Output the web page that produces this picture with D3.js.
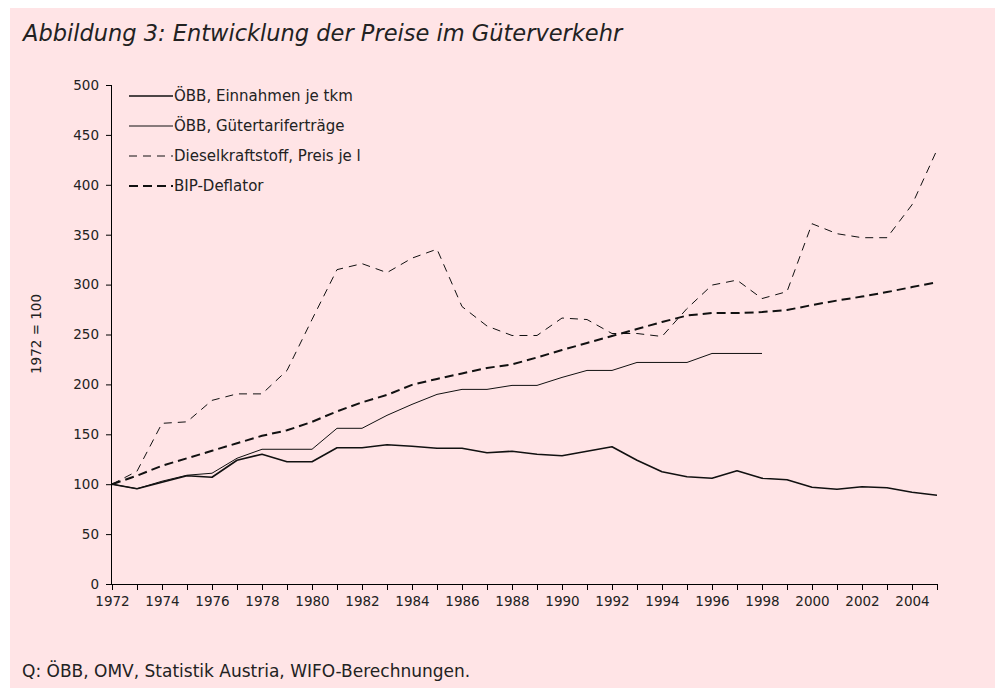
<!DOCTYPE html>
<html>
<head>
<meta charset="utf-8">
<script src="https://cdn.jsdelivr.net/npm/d3@7"></script>
<style>
  body { margin: 0; background: #fff; }
  text { font-family: "DejaVu Sans", sans-serif; fill: #222; }
</style>
</head>
<body>
<div id="chart"></div>
<script>
var years = d3.range(1972, 2006);

// ÖBB, Einnahmen je tkm
var einnahmen = [100, 95.5, 102, 108.5, 107, 124, 130, 122.5, 122.5, 136.5, 136.5, 139.5,
    138, 136, 136, 131.5, 133, 130, 128.5, 133, 137.5, 124, 112.5, 107.5, 106, 113.5,
    106, 104.5, 97, 95, 97.5, 96.5, 92, 89];

// ÖBB, Gütertariferträge (bis 1998)
var tarif = [100, 95.5, 103, 109, 111, 126, 135, 135, 135, 156, 156, 169,
    180, 190, 195, 195, 199, 199, 207, 214, 214, 222, 222, 222, 231, 231, 231];

// Dieselkraftstoff, Preis je l
var diesel = [100, 113, 161, 162.5, 184, 190.5, 190.5, 214, 265, 315, 321, 312,
    326.5, 335.5, 278, 258.5, 249, 249, 266.5, 265, 251, 251, 248, 276, 299.5, 304.5,
    286, 293, 361, 351, 347, 347, 380, 435];

// BIP-Deflator
var deflator = [100, 108.5, 118.5, 126, 133.5, 141, 148.5, 154, 162.5, 173, 182, 189.5,
    199.5, 205.5, 211, 216.5, 220, 227, 234.5, 241.5, 248.5, 255.5, 262.5, 269, 271.5,
    271.5, 272.5, 274.5, 279.5, 284, 288, 292.5, 297.5, 302.5];

var seriesNames = ["ÖBB, Einnahmen je tkm", "ÖBB, Gütertariferträge",
    "Dieselkraftstoff, Preis je l", "BIP-Deflator"];

var yTicks = [0, 50, 100, 150, 200, 250, 300, 350, 400, 450, 500];
var xLabels = d3.range(1972, 2006, 2);

function init() {
    var w = 996, h = 688;

    var svg = d3.select("#chart")
        .append("svg")
        .attr("width", w)
        .attr("height", h);

    // pink panel
    svg.append("rect")
        .attr("x", 10).attr("y", 8)
        .attr("width", 985).attr("height", 680)
        .attr("fill", "#ffe4e6");

    svg.append("text")
        .attr("x", 23).attr("y", 41)
        .style("font-size", "22.5px")
        .style("font-style", "italic")
        .text("Abbildung 3: Entwicklung der Preise im Güterverkehr");

    svg.append("text")
        .attr("x", 22).attr("y", 677)
        .style("font-size", "17px")
        .text("Q: ÖBB, OMV, Statistik Austria, WIFO-Berechnungen.");

    var xscale = d3.scaleLinear()
        .domain([1972, 2005])
        .range([112, 937]);

    var yscale = d3.scaleLinear()
        .domain([0, 500])
        .range([584, 85]);

    var xAxis = d3.axisBottom(xscale)
        .tickValues(years)
        .tickSize(6)
        .tickFormat(function(d) { return xLabels.indexOf(d) >= 0 ? d : ""; });

    var yAxis = d3.axisLeft(yscale)
        .tickValues(yTicks)
        .tickSize(6)
        .tickPadding(7);

    var gx = svg.append("g")
        .attr("transform", "translate(0,584)")
        .call(xAxis);
    gx.select(".domain").attr("d", "M112,0.5H937");
    gx.selectAll(".tick line").attr("stroke", "#000");
    gx.selectAll(".tick text")
        .attr("dy", "0.95em")
        .style("font-size", "13.5px")
        .style("font-family", "DejaVu Sans, sans-serif")
        .attr("fill", "#222");

    var gy = svg.append("g")
        .attr("transform", "translate(112,0)")
        .call(yAxis);
    gy.select(".domain").attr("d", "M-0.5,85V584");
    gy.selectAll(".tick line").attr("stroke", "#000");
    gy.selectAll(".tick text")
        .style("font-size", "13.5px")
        .style("font-family", "DejaVu Sans, sans-serif")
        .attr("fill", "#222");

    svg.append("text")
        .attr("transform", "translate(41,334) rotate(-90)")
        .attr("text-anchor", "middle")
        .style("font-size", "13.5px")
        .text("1972 = 100");

    var styles = [
        { data: einnahmen, width: 1.6, dash: null },
        { data: tarif, width: 1, dash: null },
        { data: diesel, width: 1, dash: "8,6" },
        { data: deflator, width: 2, dash: "9,5" }
    ];

    var line = d3.line()
        .x(function(d, i) { return xscale(years[i]); })
        .y(function(d) { return yscale(d); });

    svg.selectAll("path.series")
        .data(styles)
        .enter()
        .append("path")
        .attr("class", "series")
        .attr("d", function(s) { return line(s.data); })
        .attr("fill", "none")
        .attr("stroke", "#111")
        .attr("stroke-width", function(s) { return s.width; })
        .attr("stroke-dasharray", function(s) { return s.dash; })
        .attr("stroke-linejoin", "round");

    // legend
    var legend = svg.selectAll("g.legend")
        .data(styles)
        .enter()
        .append("g")
        .attr("class", "legend")
        .attr("transform", function(s, i) { return "translate(129," + (96 + i * 30) + ")"; });

    legend.append("line")
        .attr("x1", 0).attr("x2", 44)
        .attr("stroke", "#111")
        .attr("stroke-width", function(s) { return s.width; })
        .attr("stroke-dasharray", function(s) { return s.dash; });

    legend.append("text")
        .attr("x", 45).attr("y", 5)
        .style("font-size", "15px")
        .text(function(s, i) { return seriesNames[i]; });
}

window.onload = init;
</script>
</body>
</html>
